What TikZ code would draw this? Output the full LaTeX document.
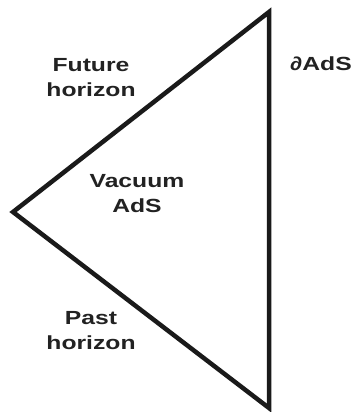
\documentclass[tikz,border=0pt]{standalone}
\usepackage{fontspec}
\setsansfont{Liberation Sans}
\usetikzlibrary{positioning}
\definecolor{edgeink}{HTML}{1A1A1A}
\definecolor{labelink}{HTML}{222222}

\begin{document}
\begin{tikzpicture}[x=1pt, y=-1pt,
  edge/.style={line width=4.5pt, edgeink, line join=miter, line cap=butt},
  tag/.style={align=center, font=\fontsize{19}{25}\selectfont\sffamily\bfseries, text=labelink, inner sep=0pt, xscale=1.3, transform shape}
]
  \useasboundingbox (0,0) rectangle (358,412);
  \coordinate (top) at (269,12);
  \coordinate (tip) at (13,212);
  \coordinate (bottom) at (269,408);

  \node[tag] (future) at (91,78) {Future\\horizon};
  \node[tag] (vacuum) at (137,194) {Vacuum\\AdS};
  \node[tag] (past) at (91,331) {Past\\horizon};
  \node[tag] (bdy) at (321,64) {∂AdS};

  \draw[edge] (top) -- (tip) -- (bottom) -- cycle;
\end{tikzpicture}
\end{document}
